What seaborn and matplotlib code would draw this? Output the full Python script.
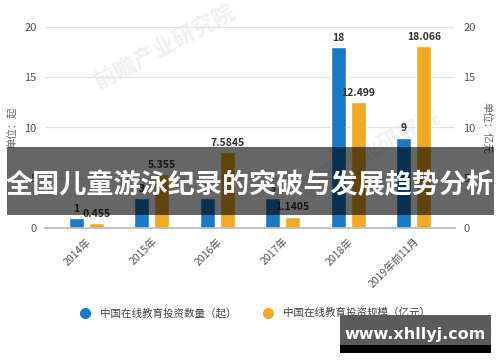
import matplotlib
matplotlib.use("Agg")
import matplotlib.pyplot as plt
import seaborn as sns
import pandas as pd
from matplotlib.lines import Line2D
from matplotlib.patches import Rectangle

years = ["2014年", "2015年", "2016年", "2017年", "2018年", "2019年前11月"]
count_vals = [1, 3, 3, 3, 18, 9]
scale_vals = [0.455, 5.355, 7.5845, 1.1405, 12.499, 18.066]
series_names = ["中国在线教育投资数量（起）", "中国在线教育投资规模（亿元）"]
colors = ["#1A7AC8", "#F2AA22"]
title = "全国儿童游泳纪录的突破与发展趋势分析"

sns.set_theme(style="white")
plt.rcParams['font.family'] = ['Noto Sans CJK SC', 'DejaVu Sans']

df = pd.DataFrame({
    "year": years * 2,
    "value": count_vals + scale_vals,
    "series": [series_names[0]] * len(years) + [series_names[1]] * len(years),
})

fig = plt.figure(figsize=(5, 3.62), dpi=100)

# faint watermarks (behind everything)
fig.text(0.33, 0.87, "前瞻产业研究院", fontsize=16, color="#eef0f3", rotation=28,
         ha="center", va="center", fontweight="bold", zorder=-5)
fig.text(0.74, 0.58, "前瞻产业研究院", fontsize=16, color="#f1f2f5", rotation=28,
         ha="center", va="center", fontweight="bold", zorder=-5)

ax = fig.add_axes([0.09, 1 - 228 / 362, 0.82, (228 - 27) / 362])
ax.patch.set_alpha(0)
sns.barplot(data=df, x="year", y="value", hue="series", order=years,
            hue_order=series_names, palette=colors, width=0.61, gap=0.25,
            legend=False, ax=ax, saturation=1)
ax.set_xlim(-0.63, 5.63)
ax.set_ylim(0, 20)
ax.set_yticks([0, 5, 10, 15, 20])
ax.yaxis.grid(True, color="#e3e3e3", linewidth=1)
ax.set_axisbelow(True)
for s in ["top", "left", "right"]:
    ax.spines[s].set_visible(False)
ax.spines["bottom"].set_color("#bbbbbb")
ax.tick_params(axis="y", length=0, labelsize=8, labelcolor="#555555", pad=6)
ax.tick_params(axis="x", length=4, color="#bbbbbb", labelsize=7.5, labelcolor="#555555", pad=2)
for lab in ax.get_xticklabels():
    lab.set_rotation(45)
    lab.set_ha("right")
    lab.set_rotation_mode("anchor")
ax.set_xlabel("")
ax.set_ylabel("单位：起", fontsize=7.5, color="#666666", labelpad=5)

for cont, vals in zip(ax.containers, [count_vals, scale_vals]):
    ax.bar_label(cont, labels=[f"{v:g}" for v in vals], padding=3,
                 fontsize=7.5, fontweight="bold", color="#333333")

ax2 = ax.twinx()
ax2.patch.set_alpha(0)
ax2.set_ylim(0, 20)
ax2.set_yticks([0, 5, 10, 15, 20])
for s in ["top", "left", "right", "bottom"]:
    ax2.spines[s].set_visible(False)
ax2.tick_params(axis="y", length=0, labelsize=8, labelcolor="#555555", pad=6)
ax2.set_ylabel("单位：亿元", fontsize=7.5, color="#666666", rotation=270, labelpad=11)

handles = [Line2D([], [], marker="o", linestyle="", markersize=7,
                  markerfacecolor=c, markeredgecolor=c) for c in colors]
fig.legend(handles, series_names, loc="center", bbox_to_anchor=(0.505, 1 - 313 / 362),
           ncol=2, frameon=False, fontsize=7.6, labelcolor="#444444",
           handletextpad=0.4, columnspacing=2.0)

fig.text(0.985, 1 - 335 / 362, "@前瞻经济学人APP", fontsize=7, color="#666666",
         ha="right", va="center")

# title band
fig.patches.append(Rectangle((7 / 500, 1 - 215 / 362), 487 / 500, 68 / 362,
                             transform=fig.transFigure, facecolor="black",
                             alpha=0.6, edgecolor="none", zorder=10))
fig.text(0.5, 1 - 185 / 362, title, fontsize=19.5, fontweight="bold", color="white",
         ha="center", va="center", zorder=11)

# site watermark
fig.patches.append(Rectangle((340 / 500, 1 - 345 / 362), 151 / 500, 30 / 362,
                             transform=fig.transFigure, facecolor="#5b5b5b",
                             edgecolor="none", zorder=10))
fig.patches.append(Rectangle((340 / 500, 1 - 353 / 362), 151 / 500, 8 / 362,
                             transform=fig.transFigure, facecolor="black",
                             edgecolor="none", zorder=10))
fig.text(415 / 500, 1 - 335 / 362, "www.xhllyj.com", fontsize=11.5, fontweight="bold",
         color="white", ha="center", va="center", family="DejaVu Sans", zorder=11)

fig.savefig("out.png", dpi=100)
